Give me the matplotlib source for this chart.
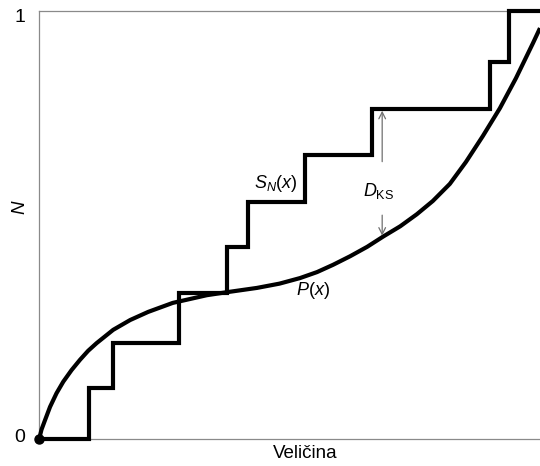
import matplotlib
matplotlib.use("Agg")
import matplotlib.pyplot as plt
import matplotlib.transforms as mtransforms

plt.rcParams['font.family'] = ['Liberation Sans', 'DejaVu Sans']
plt.rcParams['mathtext.fontset'] = 'custom'
plt.rcParams['mathtext.rm'] = 'Liberation Sans'
plt.rcParams['mathtext.it'] = 'Liberation Sans:italic'
plt.rcParams['mathtext.bf'] = 'Liberation Sans:bold'

# Empirical step function S_N(x)
step_x = [0.0, 0.0998, 0.148, 0.279, 0.375, 0.418, 0.531, 0.665, 0.900, 0.939, 1.0]
step_y = [0.0, 0.119, 0.224, 0.341, 0.449, 0.554, 0.664, 0.771, 0.881, 1.0, 1.0]

# Smooth distribution P(x)
curve_x = [0.0, 0.002, 0.005, 0.012, 0.022, 0.035, 0.0485, 0.065, 0.0818, 0.098, 0.115,
           0.148, 0.182, 0.218, 0.267, 0.335, 0.375, 0.435, 0.480, 0.521, 0.555, 0.587,
           0.621, 0.655, 0.687, 0.721, 0.754, 0.786, 0.820, 0.852, 0.886, 0.920, 0.952,
           0.986, 1.0]
curve_y = [0.0, 0.008, 0.022, 0.044, 0.075, 0.107, 0.134, 0.161, 0.185, 0.206, 0.224,
           0.255, 0.278, 0.297, 0.318, 0.336, 0.343, 0.353, 0.363, 0.376, 0.390, 0.407,
           0.427, 0.449, 0.473, 0.497, 0.525, 0.556, 0.596, 0.647, 0.708, 0.773, 0.843,
           0.925, 0.960]

y_ticks = [0, 1]
y_ticklabels = ['0', '1']

fig = plt.figure(figsize=(5.40, 4.66), dpi=100)
ax = fig.add_axes([39/540, 27/466, 501/540, 428/466])
ax.set_xlim(0, 1)
ax.set_ylim(0, 1)

ax.plot(step_x, step_y, drawstyle='steps-post', color='black', lw=3,
        solid_joinstyle='miter', clip_on=False, zorder=3)
ax.plot(curve_x, curve_y, color='black', lw=3, solid_capstyle='butt',
        solid_joinstyle='round', clip_on=False, zorder=3)
ax.plot([0], [0], 'o', color='black', markersize=6.5, clip_on=False, zorder=4)

for s in ['left', 'bottom', 'top']:
    ax.spines[s].set_color('#8a8a8a')
    ax.spines[s].set_linewidth(0.9)
ax.spines['right'].set_visible(False)

ax.set_xticks([])
ax.set_yticks(y_ticks)
ax.set_yticklabels(y_ticklabels)
ax.tick_params(axis='y', length=0, pad=10, labelsize=14)
labels = ax.get_yticklabels()
offsets = [2.5, -3]
for lab, dy in zip(labels, offsets):
    lab.set_transform(lab.get_transform() +
                      mtransforms.ScaledTranslation(0, dy / 72, fig.dpi_scale_trans))

ax.text(-0.038, 0.542, 'N', rotation=90, fontsize=13.5, style='italic',
        ha='center', va='center', transform=ax.transAxes)
ax.text(0.531, -0.033, 'Veličina', fontsize=13.5, ha='center', va='center',
        transform=ax.transAxes)

ax.text(0.473, 0.598, r'$S_N(x)$', fontsize=13, ha='center', va='center')
ax.text(0.677, 0.579, r'$D_{\mathrm{KS}}$', fontsize=13, ha='center', va='center')
ax.text(0.547, 0.346, r'$P(x)$', fontsize=13, ha='center', va='center')

arrow_kw = dict(arrowstyle='->', color='#707070', lw=0.9, mutation_scale=12,
                shrinkA=0, shrinkB=0)
ax.annotate('', xy=(0.685, 0.767), xytext=(0.685, 0.648), arrowprops=arrow_kw)
ax.annotate('', xy=(0.685, 0.475), xytext=(0.685, 0.523), arrowprops=arrow_kw)

fig.savefig('out.png', dpi=100)
